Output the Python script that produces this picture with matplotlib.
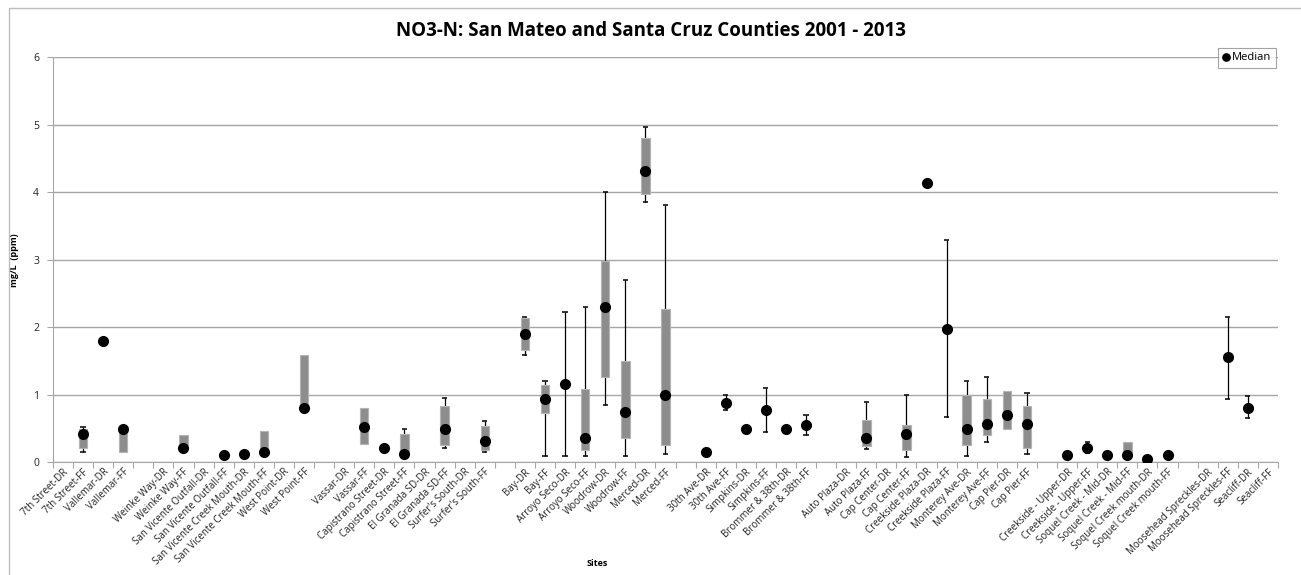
"""
NO3-N box summary per site (San Mateo and Santa Cruz Counties 2001 - 2013),
drawn the way the Excel chart does it: grey floating box Q1..Q3, black median
dot, and thin error-bar whiskers with caps.
"""

import matplotlib.pyplot as plt
import numpy as np
from matplotlib.patches import Rectangle

nan = np.nan

sites = [
    "7th Street-DR", "7th Street-FF", "Vallemar-DR", "Vallemar-FF", "",
    "Weinke Way-DR", "Weinke Way-FF", "San Vicente Outfall-DR", "San Vicente Outfall-FF",
    "San Vicente Creek Mouth-DR", "San Vicente Creek Mouth-FF", "West Point-DR", "West Point-FF", "",
    "Vassar-DR", "Vassar-FF", "Capistrano Street-DR", "Capistrano Street-FF",
    "El Granada SD-DR", "El Granada SD-FF", "Surfer's South-DR", "Surfer's South-FF", "",
    "Bay-DR", "Bay-FF", "Arroyo Seco-DR", "Arroyo Seco-FF", "Woodrow-DR", "Woodrow-FF",
    "Merced-DR", "Merced-FF", "",
    "30th Ave-DR", "30th Ave-FF", "Simpkins-DR", "Simpkins-FF", "Brommer & 38th-DR", "Brommer & 38th-FF", "",
    "Auto Plaza-DR", "Auto Plaza-FF", "Cap Center-DR", "Cap Center-FF", "Creekside Plaza-DR",
    "Creekside Plaza-FF", "Monterey Ave-DR", "Monterey Ave-FF", "Cap Pier-DR", "Cap Pier-FF", "",
    "Creekside - Upper-DR", "Creekside - Upper-FF", "Soquel Creek - Mid-DR", "Soquel Creek - Mid-FF",
    "Soquel Creek mouth-DR", "Soquel Creek mouth-FF", "",
    "Moosehead Spreckles-DR", "Moosehead Spreckles-FF", "Seacliff-DR", "Seacliff-FF",
]

q1 = [
    nan, 0.22, nan, 0.16, nan,
    nan, 0.20, nan, nan, nan, 0.15, nan, 0.80, nan,
    nan, 0.27, nan, 0.13, nan, 0.26, nan, 0.19, nan,
    1.66, 0.73, nan, 0.18, 1.26, 0.36, 3.97, 0.26, nan,
    nan, nan, nan, nan, nan, nan, nan,
    nan, 0.24, nan, 0.19, nan, nan, 0.26, 0.40, 0.49, 0.21, nan,
    nan, nan, nan, 0.11, nan, nan, nan,
    nan, nan, nan, nan,
]
median = [
    nan, 0.42, 1.80, 0.49, nan,
    nan, 0.21, nan, 0.11, 0.13, 0.16, nan, 0.80, nan,
    nan, 0.52, 0.22, 0.13, nan, 0.49, nan, 0.32, nan,
    1.90, 0.94, 1.16, 0.36, 2.30, 0.75, 4.31, 1.00, nan,
    0.16, 0.88, 0.49, 0.77, 0.49, 0.55, nan,
    nan, 0.36, nan, 0.42, 4.14, 1.98, 0.49, 0.57, 0.70, 0.57, nan,
    0.11, 0.21, 0.11, 0.11, 0.05, 0.11, nan,
    nan, 1.56, 0.81, nan,
]
q3 = [
    nan, 0.50, nan, 0.53, nan,
    nan, 0.40, nan, nan, nan, 0.47, nan, 1.59, nan,
    nan, 0.80, nan, 0.42, nan, 0.84, nan, 0.54, nan,
    2.14, 1.15, nan, 1.09, 2.98, 1.50, 4.81, 2.27, nan,
    nan, nan, nan, nan, nan, nan, nan,
    nan, 0.63, nan, 0.56, nan, nan, 1.00, 0.94, 1.06, 0.84, nan,
    nan, nan, nan, 0.30, nan, nan, nan,
    nan, nan, nan, nan,
]
whisker_lo = [
    nan, 0.16, nan, nan, nan,
    nan, nan, nan, nan, nan, nan, nan, nan, nan,
    nan, nan, nan, nan, nan, 0.22, nan, 0.15, nan,
    1.59, 0.10, 0.10, 0.10, 0.85, 0.10, 3.86, 0.13, nan,
    nan, 0.77, nan, 0.45, nan, 0.40, nan,
    nan, 0.20, nan, 0.08, 4.09, 0.68, 0.10, 0.31, nan, 0.12, nan,
    nan, 0.14, nan, nan, nan, nan, nan,
    nan, 0.94, 0.66, nan,
]
whisker_hi = [
    nan, 0.52, nan, nan, nan,
    nan, nan, nan, nan, nan, nan, nan, nan, nan,
    nan, nan, nan, 0.50, nan, 0.95, nan, 0.61, nan,
    2.15, 1.20, 2.23, 2.30, 4.00, 2.70, 4.97, 3.82, nan,
    nan, 1.00, nan, 1.10, nan, 0.70, nan,
    nan, 0.90, nan, 1.00, 4.19, 3.30, 1.21, 1.27, nan, 1.03, nan,
    nan, 0.30, nan, nan, nan, nan, nan,
    nan, 2.16, 0.99, nan,
]

plt.rcParams["font.family"] = ["Open Sans", "DejaVu Sans"]

q1 = np.array(q1)
median = np.array(median)
q3 = np.array(q3)
lo = np.array(whisker_lo)
hi = np.array(whisker_hi)
x = np.arange(len(sites))

fig = plt.figure(figsize=(13.01, 5.75), dpi=100)
ax = fig.add_axes([0.0407, 0.1957, 0.9416, 0.7046])

# whiskers: from the box edge (or the median when there is no box) out to the cap
cap = 0.13
box_top = np.where(np.isfinite(q3), q3, median)
box_bot = np.where(np.isfinite(q1), q1, median)
m = np.isfinite(hi)
ax.vlines(x[m], box_top[m], hi[m], color="black", lw=0.9, zorder=2)
ax.hlines(hi[m], x[m] - cap, x[m] + cap, color="black", lw=1.1, zorder=2)
m = np.isfinite(lo)
ax.vlines(x[m], lo[m], box_bot[m], color="black", lw=0.9, zorder=2)
ax.hlines(lo[m], x[m] - cap, x[m] + cap, color="black", lw=1.1, zorder=2)

m = np.isfinite(q1)
ax.bar(x[m], q3[m] - q1[m], bottom=q1[m], width=0.42, color="#8d8d8d",
       edgecolor="#b4b4b4", linewidth=0.8, zorder=3)

ax.plot(x, median, "o", color="black", markersize=7, label="Median", zorder=4)

ax.set_xlim(-0.5, len(sites) - 0.5)
ax.set_ylim(0, 6)
ax.set_yticks(range(7))
ax.yaxis.grid(True, color="#a6a6a6", lw=1)
ax.set_axisbelow(True)

ax.set_xticks(np.arange(len(sites) + 1) - 0.5)
ax.set_xticklabels([])
ax.set_xticks(x, minor=True)
ax.set_xticklabels(sites, minor=True, rotation=45, ha="right", va="top",
                   rotation_mode="anchor", fontsize=7, color="#222222")
ax.tick_params(axis="x", which="major", length=4, color="#a6a6a6", direction="out")
ax.tick_params(axis="x", which="minor", length=0, pad=3)
ax.tick_params(axis="y", length=4, color="#a6a6a6", labelsize=7.5, pad=6, labelcolor="#222222")

for side in ("top", "right"):
    ax.spines[side].set_visible(False)
for side in ("left", "bottom"):
    ax.spines[side].set_color("#a6a6a6")

ax.set_ylabel("mg/L  (ppm)", fontsize=6.5, fontweight="bold", labelpad=10)
ax.set_xlabel("Sites", fontsize=6.5, fontweight="bold")
ax.xaxis.set_label_coords(597 / 1301, 12 / 575, transform=fig.transFigure)
ax.xaxis.label.set_verticalalignment("center")

fig.text(0.5, 1 - 31 / 575, "NO3-N: San Mateo and Santa Cruz Counties 2001 - 2013",
         ha="center", va="center", fontsize=13.5, fontweight="bold")

leg = ax.legend(loc="upper right", bbox_to_anchor=(1276 / 1301, 1 - 48 / 575),
                bbox_transform=fig.transFigure, borderaxespad=0, fancybox=False,
                fontsize=8, markerscale=0.75, handlelength=0.6, handletextpad=0.3,
                borderpad=0.4)
leg.get_frame().set_edgecolor("#8c8c8c")
leg.get_frame().set_linewidth(0.8)
leg.set_zorder(10)

# outer chart border (only left and top edges fall inside the picture)
fig.patches.append(Rectangle((9 / 1301, -0.1), 1.2, 1 - 8 / 575 + 0.1, transform=fig.transFigure,
                             fill=False, edgecolor="#bdbdbd", lw=1))

fig.savefig("out.png", dpi=100)
